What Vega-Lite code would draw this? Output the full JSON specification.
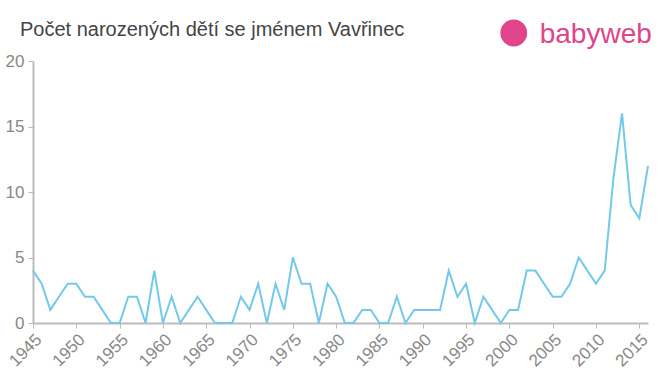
{
  "$schema": "https://vega.github.io/schema/vega-lite/v6.json",
  "autosize": {"type": "none"},
  "width": 615,
  "height": 262,
  "padding": {"left": 33, "top": 61, "right": 12, "bottom": 52},
  "background": "white",
  "title": {
    "text": "Počet narozených dětí se jménem Vavřinec",
    "anchor": "start",
    "frame": "group",
    "font": "Liberation Sans",
    "fontSize": 20,
    "fontWeight": "normal",
    "color": "#444444",
    "baseline": "alphabetic",
    "dx": -13,
    "dy": 36,
    "offset": 0
  },
  "config": {"view": {"stroke": null}},
  "data": {"values": [
    {"year": 1945, "count": 4}, {"year": 1946, "count": 3}, {"year": 1947, "count": 1}, {"year": 1948, "count": 2},
    {"year": 1949, "count": 3}, {"year": 1950, "count": 3}, {"year": 1951, "count": 2}, {"year": 1952, "count": 2},
    {"year": 1953, "count": 1}, {"year": 1954, "count": 0}, {"year": 1955, "count": 0}, {"year": 1956, "count": 2},
    {"year": 1957, "count": 2}, {"year": 1958, "count": 0}, {"year": 1959, "count": 4}, {"year": 1960, "count": 0},
    {"year": 1961, "count": 2}, {"year": 1962, "count": 0}, {"year": 1963, "count": 1}, {"year": 1964, "count": 2},
    {"year": 1965, "count": 1}, {"year": 1966, "count": 0}, {"year": 1967, "count": 0}, {"year": 1968, "count": 0},
    {"year": 1969, "count": 2}, {"year": 1970, "count": 1}, {"year": 1971, "count": 3}, {"year": 1972, "count": 0},
    {"year": 1973, "count": 3}, {"year": 1974, "count": 1}, {"year": 1975, "count": 5}, {"year": 1976, "count": 3},
    {"year": 1977, "count": 3}, {"year": 1978, "count": 0}, {"year": 1979, "count": 3}, {"year": 1980, "count": 2},
    {"year": 1981, "count": 0}, {"year": 1982, "count": 0}, {"year": 1983, "count": 1}, {"year": 1984, "count": 1},
    {"year": 1985, "count": 0}, {"year": 1986, "count": 0}, {"year": 1987, "count": 2}, {"year": 1988, "count": 0},
    {"year": 1989, "count": 1}, {"year": 1990, "count": 1}, {"year": 1991, "count": 1}, {"year": 1992, "count": 1},
    {"year": 1993, "count": 4}, {"year": 1994, "count": 2}, {"year": 1995, "count": 3}, {"year": 1996, "count": 0},
    {"year": 1997, "count": 2}, {"year": 1998, "count": 1}, {"year": 1999, "count": 0}, {"year": 2000, "count": 1},
    {"year": 2001, "count": 1}, {"year": 2002, "count": 4}, {"year": 2003, "count": 4}, {"year": 2004, "count": 3},
    {"year": 2005, "count": 2}, {"year": 2006, "count": 2}, {"year": 2007, "count": 3}, {"year": 2008, "count": 5},
    {"year": 2009, "count": 4}, {"year": 2010, "count": 3}, {"year": 2011, "count": 4}, {"year": 2012, "count": 11},
    {"year": 2013, "count": 16}, {"year": 2014, "count": 9}, {"year": 2015, "count": 8}, {"year": 2016, "count": 12}
  ]},
  "layer": [
    {
      "mark": {"type": "line", "color": "#74c9ea", "strokeWidth": 2, "clip": false},
      "encoding": {
        "x": {
          "field": "year", "type": "quantitative",
          "scale": {"domain": [1945, 2016], "nice": false, "zero": false},
          "axis": {
            "title": null, "values": [1945, 1950, 1955, 1960, 1965, 1970, 1975, 1980, 1985, 1990, 1995, 2000, 2005, 2010, 2015],
            "format": "d", "labelAngle": -45, "labelAlign": "right", "labelBaseline": "top",
            "labelFont": "Liberation Sans", "labelFontSize": 17, "labelColor": "#888888",
            "domainColor": "#bbbbbb", "domainWidth": 2, "tickColor": "#bbbbbb", "tickWidth": 1, "tickSize": 5,
            "grid": false, "labelPadding": 3, "labelOverlap": false, "labelFlush": false
          }
        },
        "y": {
          "field": "count", "type": "quantitative",
          "scale": {"domain": [0, 20], "nice": false},
          "axis": {
            "title": null, "values": [0, 5, 10, 15, 20],
            "labelFont": "Liberation Sans", "labelFontSize": 17, "labelColor": "#888888",
            "domainColor": "#bbbbbb", "domainWidth": 2, "tickColor": "#bbbbbb", "tickSize": 5,
            "grid": false, "labelPadding": 4
          }
        }
      }
    },
    {
      "data": {"values": [{"brand": "babyweb"}]},
      "mark": {"type": "text", "color": "#e0448a", "font": "Liberation Sans", "fontSize": 28, "align": "left", "baseline": "alphabetic"},
      "encoding": {
        "text": {"field": "brand"},
        "x": {"datum": 2003.5},
        "y": {"datum": 21.37}
      }
    },
    {
      "data": {"values": [{"brand": "babyweb"}]},
      "mark": {"type": "point", "filled": true, "color": "#e0448a", "opacity": 1, "size": 720, "shape": "circle"},
      "encoding": {
        "x": {"datum": 2000.5},
        "y": {"datum": 22.14}
      }
    }
  ]
}
